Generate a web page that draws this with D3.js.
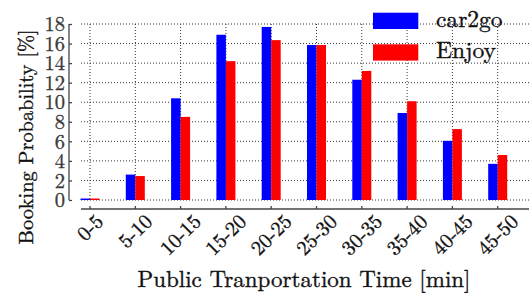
<!DOCTYPE html>
<html>
<head>
<meta charset="utf-8">
<script src="https://cdn.jsdelivr.net/npm/d3@7"></script>
<style>
  body { margin: 0; background: #fff; }
</style>
</head>
<body>
<div id="chart"></div>
<script>
// data
var categories = ["0-5", "5-10", "10-15", "15-20", "20-25", "25-30", "30-35", "35-40", "40-45", "45-50"];
var seriesNames = ["car2go", "Enjoy"];
var car2go = [0.15, 2.6, 10.4, 16.9, 17.7, 15.85, 12.3, 8.9, 6.05, 3.7];
var enjoy = [0.15, 2.45, 8.5, 14.2, 16.35, 15.85, 13.2, 10.1, 7.25, 4.6];
var yTicks = [0, 2, 4, 6, 8, 10, 12, 14, 16, 18];
var colors = ["#0000ff", "#ff0000"];

var svgWidth = 529;
var svgHeight = 295;
var FONT = '"Latin Modern Roman", "Liberation Serif", serif';

var svg = d3.select("#chart")
  .append("svg")
  .attr("width", svgWidth)
  .attr("height", svgHeight);

// fit a text to a given width by changing its font size
function fitWidth(sel, target) {
  sel.each(function() {
    var fs = parseFloat(this.style.fontSize);
    var w = this.getComputedTextLength();
    this.style.fontSize = (fs * target / w).toFixed(2) + "px";
  });
}

// thin outline so the light Latin Modern strokes read like the reference
function heavy(sel, col) {
  sel.attr("fill", col).attr("stroke", col).attr("stroke-width", 0.35);
}

// scales
var x0 = d3.scaleBand()
  .domain(categories)
  .range([67.35, 520.35]);

var x1 = d3.scaleBand()
  .domain(seriesNames)
  .range([-9.5, 9.5]);

var y = d3.scaleLinear()
  .domain([0, 18])
  .range([200, 24]);

var cx = d => x0(d) + x0.bandwidth() / 2;

// grid (dotted)
var grid = svg.append("g").attr("class", "grid");
grid.selectAll("line.h").data(yTicks).enter()
  .append("line")
  .attr("x1", 81).attr("x2", svgWidth)
  .attr("y1", d => y(d)).attr("y2", d => y(d))
  .attr("stroke", "#333").attr("stroke-width", 1)
  .attr("stroke-dasharray", "1,2");
grid.selectAll("line.v").data(categories).enter()
  .append("line")
  .attr("x1", cx).attr("x2", cx)
  .attr("y1", y(18)).attr("y2", y(0))
  .attr("stroke", "#333").attr("stroke-width", 1)
  .attr("stroke-dasharray", "1,2");

// bars
var rows = categories.map((c, i) => ({cat: c, vals: [car2go[i], enjoy[i]]}));
var groups = svg.selectAll("g.cat").data(rows).enter()
  .append("g")
  .attr("transform", d => `translate(${cx(d.cat)},0)`);
groups.selectAll("rect")
  .data(d => d.vals.map((v, j) => ({name: seriesNames[j], v: v, j: j})))
  .enter()
  .append("rect")
  .attr("x", d => x1(d.name))
  .attr("width", x1.bandwidth())
  .attr("y", d => y(d.v))
  .attr("height", d => y(0) - y(d.v))
  .attr("fill", d => colors[d.j]);

// y axis (offset spine)
var leftAxis = d3.axisLeft(y).tickValues(yTicks).tickSize(0).tickPadding(4);
var yAxisG = svg.append("g")
  .attr("transform", "translate(69,0)")
  .call(leftAxis);
yAxisG.select(".domain").remove();
yAxisG.append("line")
  .attr("x1", 0).attr("x2", 0)
  .attr("y1", y(18)).attr("y2", y(0))
  .attr("stroke", "#444").attr("stroke-width", 1.3);
yAxisG.selectAll(".tick").append("line")
  .attr("x1", 0).attr("x2", 3)
  .attr("stroke", "#444").attr("stroke-width", 1.3);
yAxisG.selectAll(".tick text")
  .style("font-family", FONT)
  .style("font-size", "20.5px")
  .attr("dy", "0.33em")
  .call(heavy, "#3a3a3a");

// x axis (offset spine)
var xAxisG = svg.append("g");
xAxisG.append("line")
  .attr("x1", 81).attr("x2", svgWidth)
  .attr("y1", 209).attr("y2", 209)
  .attr("stroke", "#444").attr("stroke-width", 1.5);
xAxisG.selectAll("line.tk").data(categories).enter()
  .append("line")
  .attr("x1", cx).attr("x2", cx)
  .attr("y1", 206).attr("y2", 209)
  .attr("stroke", "#444").attr("stroke-width", 1.3);
var xLabels = xAxisG.selectAll("text").data(categories).enter()
  .append("text")
  .style("font-family", FONT)
  .style("font-size", "20.5px")
  .attr("text-anchor", "middle")
  .attr("dy", "0.33em")
  .call(heavy, "#111")
  .text(d => d);
xLabels.attr("transform", function(d) {
  var w = this.getComputedTextLength();
  var h = 14;
  var off = (w + h) / (2 * Math.SQRT2);
  return `translate(${cx(d)},${213 + off}) rotate(-45)`;
});

// axis titles
svg.append("text")
  .attr("x", 304)
  .attr("y", 287)
  .attr("text-anchor", "middle")
  .style("font-family", FONT)
  .style("font-size", "21px")
  .call(heavy, "#111")
  .text("Public Tranportation Time [min]")
  .call(fitWidth, 333);

svg.append("text")
  .attr("transform", "translate(33,137) rotate(-90)")
  .attr("text-anchor", "middle")
  .style("font-family", FONT)
  .style("font-size", "21px")
  .call(heavy, "#111")
  .text("Booking Probability [%]")
  .call(fitWidth, 215);

// legend
var legend = svg.append("g");
seriesNames.forEach(function(name, i) {
  legend.append("rect")
    .attr("x", 373).attr("y", 12.7 + i * 31.6)
    .attr("width", 45.3).attr("height", 16.3)
    .attr("fill", colors[i]);
  legend.append("text")
    .attr("x", 436).attr("y", 27 + i * 31.3)
    .style("font-family", FONT)
    .style("font-size", "22px")
    .call(heavy, "#111")
    .text(name)
    .call(fitWidth, i === 0 ? 66.5 : 60);
});
</script>
</body>
</html>
